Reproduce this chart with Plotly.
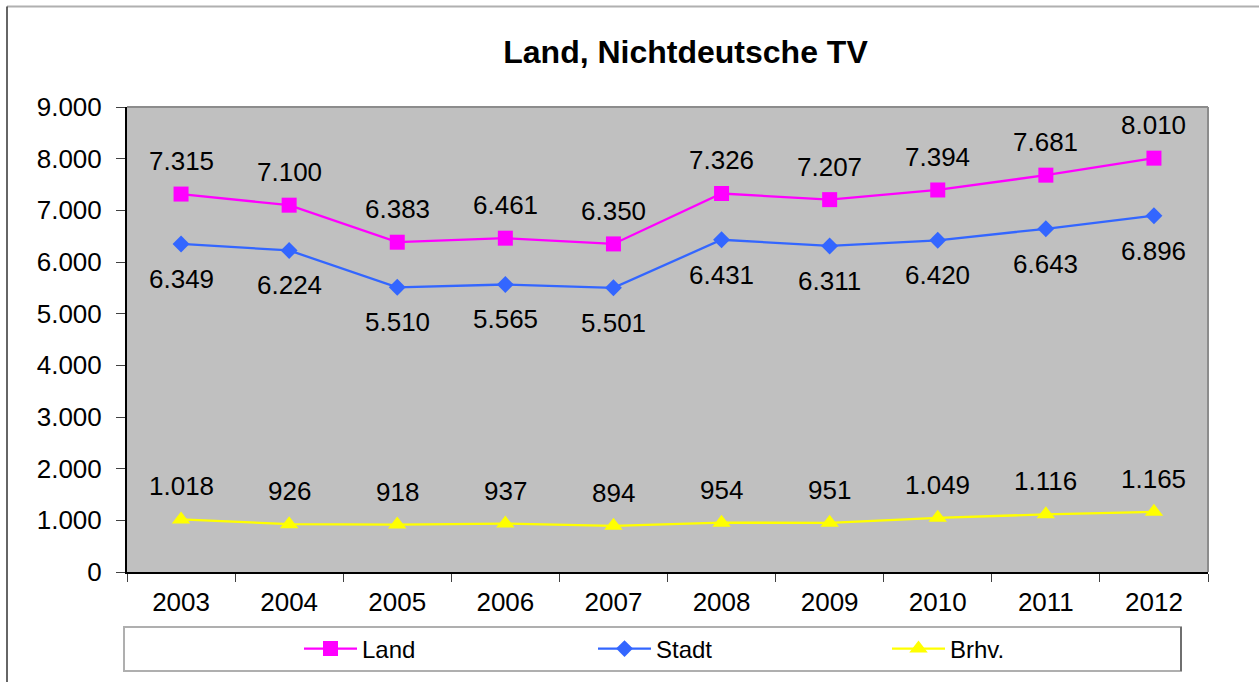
import plotly.graph_objects as go

# Nichtdeutsche TV, Land / Stadt / Bremerhaven
years = ["2003", "2004", "2005", "2006", "2007", "2008", "2009", "2010", "2011", "2012"]
land = [7315, 7100, 6383, 6461, 6350, 7326, 7207, 7394, 7681, 8010]
stadt = [6349, 6224, 5510, 5565, 5501, 6431, 6311, 6420, 6643, 6896]
brhv = [1018, 926, 918, 937, 894, 954, 951, 1049, 1116, 1165]
y_ticks = [0, 1000, 2000, 3000, 4000, 5000, 6000, 7000, 8000, 9000]

FONT = "Liberation Sans, Arial, sans-serif"
W, H = 1259, 682
L, R, T, B = 127, 51, 107, 110


def fmt(v):
    return f"{v:,}".replace(",", ".")


series = [
    ("Land", land, "#FF00FF", "square", 15, 33),
    ("Stadt", stadt, "#3366FF", "diamond", 13, -35),
    ("Brhv.", brhv, "#FFFF00", "triangle-up", 16, 33),
]

fig = go.Figure()
annotations = []
for name, vals, color, symbol, msize, shift in series:
    fig.add_trace(go.Scatter(
        x=years, y=vals, name=name, mode="lines+markers",
        line=dict(color=color, width=2.3),
        marker=dict(symbol=symbol, size=msize, color=color, line=dict(width=0)),
        hoverinfo="x+y",
    ))
    # value labels, placed by category index
    for i, v in enumerate(vals):
        annotations.append(dict(
            x=i, y=v, xref="x", yref="y", text=fmt(v), showarrow=False,
            yshift=shift, font=dict(family=FONT, size=26, color="black"),
        ))


def px_x(p):
    return (p - L) / (W - L - R)


def px_y(p):
    return (H - B - p) / (H - T - B)


shapes = [
    # plot area frame (top and right)
    dict(type="line", xref="paper", yref="paper", x0=0, x1=1, y0=1, y1=1,
         line=dict(color="#8C8C8C", width=2), layer="above"),
    dict(type="line", xref="paper", yref="paper", x0=1, x1=1, y0=0, y1=1,
         line=dict(color="#8C8C8C", width=2), layer="above"),
    # legend box
    dict(type="rect", xref="paper", yref="paper",
         x0=px_x(124), x1=px_x(1181), y0=px_y(671), y1=px_y(627),
         line=dict(color="#AFAFAF", width=2), fillcolor="white", layer="below"),
    dict(type="line", xref="paper", yref="paper",
         x0=px_x(1181), x1=px_x(1181), y0=px_y(671), y1=px_y(627),
         line=dict(color="#5A5A5A", width=1.5)),
    # chart frame
    dict(type="line", xref="paper", yref="paper",
         x0=px_x(7), x1=px_x(1262), y0=px_y(6.5), y1=px_y(6.5),
         line=dict(color="#B0B0B0", width=2)),
    dict(type="line", xref="paper", yref="paper",
         x0=px_x(7), x1=px_x(7), y0=px_y(6.5), y1=px_y(690),
         line=dict(color="#333333", width=1.5)),
]

fig.update_layout(
    width=W, height=H,
    margin=dict(l=L, r=R, t=T, b=B, pad=0, autoexpand=False),
    paper_bgcolor="white",
    plot_bgcolor="#C0C0C0",
    separators=",.",
    font=dict(family=FONT, size=26, color="black"),
    title=dict(
        text="<b>Land, Nichtdeutsche TV</b>",
        font=dict(family=FONT, size=32, color="black"),
        x=685.5 / W, xanchor="center", xref="container",
        y=1 - 52 / H, yanchor="middle", yref="container",
    ),
    xaxis=dict(
        type="category", range=[-0.5, 9.5],
        tickson="boundaries", ticks="outside", ticklen=8, tickwidth=1,
        tickcolor="#404040", showline=True, linecolor="black", linewidth=2,
        showgrid=False, zeroline=False, ticklabelstandoff=6,
        tickfont=dict(family=FONT, size=26, color="black"),
    ),
    xaxis2=dict(
        overlaying="x", anchor="y", side="bottom", type="linear",
        range=[-0.5, 9.5], tickvals=[i + 0.5 for i in range(-1, 10)],
        ticks="inside", ticklen=8, tickwidth=1, tickcolor="#404040",
        showticklabels=False, showline=False, showgrid=False, zeroline=False,
    ),
    yaxis=dict(
        range=[0, 9000], tickvals=y_ticks, tickformat=",d",
        ticks="outside", ticklen=9, tickwidth=1, tickcolor="#404040",
        showline=True, linecolor="black", linewidth=2,
        showgrid=False, zeroline=False, ticklabelstandoff=9,
        tickfont=dict(family=FONT, size=26, color="black"),
    ),
    legend=dict(
        orientation="h", x=px_x(299), xanchor="left",
        y=px_y(649), yanchor="middle",
        entrywidth=226, entrywidthmode="pixels",
        font=dict(family=FONT, size=24, color="black"),
        bgcolor="rgba(0,0,0,0)", borderwidth=0, itemwidth=53,
    ),
    annotations=annotations,
    shapes=shapes,
    showlegend=True,
)

fig.write_html("out.html")
